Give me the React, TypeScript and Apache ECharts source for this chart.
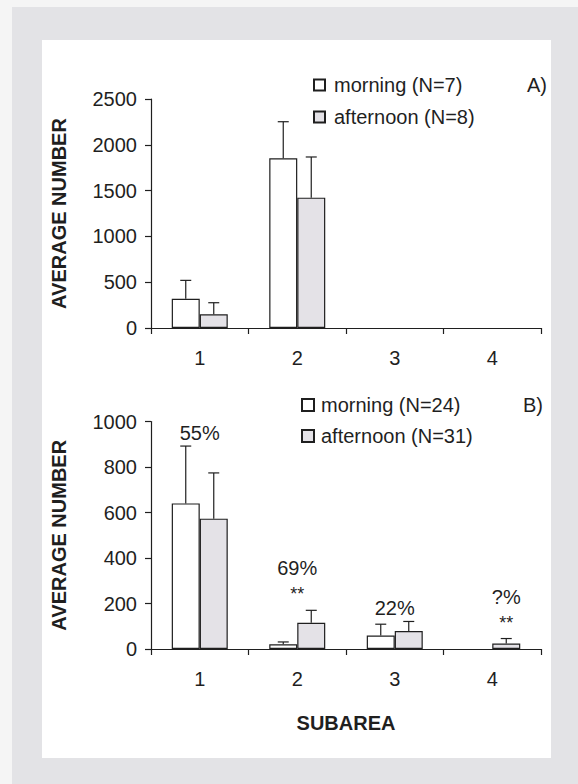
import React, { useEffect, useRef } from "react";
import * as echarts from "echarts";

// ---------- data ----------
const subareas = ["1", "2", "3", "4"];

// Panel A
const aNames = ["morning (N=7)", "afternoon (N=8)"];
const aMorning = [320, 1853, 0, 0];
const aMorningErr = [200, 399, 0, 0];
const aAfternoon = [150, 1423, 0, 0];
const aAfternoonErr = [126, 444, 0, 0];
const aYMax = 2500;
const aYStep = 500;

// Panel B
const bNames = ["morning (N=24)", "afternoon (N=31)"];
const bMorning = [640, 21, 59, 0];
const bMorningErr = [252, 10, 50, 0];
const bAfternoon = [573, 115, 79, 24];
const bAfternoonErr = [201, 55, 42, 22];
const bYMax = 1000;
const bYStep = 200;
const bPercent = ["55%", "69%", "22%", "?%"];
const bSignif = ["", "**", "", "**"];

const panelTags = ["A)", "B)"];
const yTitle = "AVERAGE NUMBER";
const xTitle = "SUBAREA";

// ---------- styles ----------
const FONT = '"Liberation Sans", Arial, Helvetica, sans-serif';
const INK = "#1f1f1f";
const AFT_FILL = "#e4e2e7";
const BAR_W = 28;
const CAP = 11;

const nz = (arr: number[]) => arr.map((v) => (v === 0 ? "-" : v));

function barSeries(idx: number, names: string[], m: number[], a: number[]) {
  return [
    {
      type: "bar",
      name: names[0],
      xAxisIndex: idx,
      yAxisIndex: idx,
      data: nz(m),
      barWidth: BAR_W,
      barGap: "0%",
      itemStyle: { color: "#ffffff", borderColor: INK, borderWidth: 1.2 },
      silent: true,
    },
    {
      type: "bar",
      name: names[1],
      xAxisIndex: idx,
      yAxisIndex: idx,
      data: nz(a),
      barWidth: BAR_W,
      barGap: "0%",
      itemStyle: { color: AFT_FILL, borderColor: INK, borderWidth: 1.2 },
      silent: true,
    },
  ];
}

function errorSeries(idx: number, m: number[], mErr: number[], a: number[], aErr: number[]) {
  const data: number[][] = [];
  m.forEach((v, i) => {
    if (mErr[i] > 0) data.push([i, v, v + mErr[i], -1]);
  });
  a.forEach((v, i) => {
    if (aErr[i] > 0) data.push([i, v, v + aErr[i], 1]);
  });
  return {
    type: "custom",
    xAxisIndex: idx,
    yAxisIndex: idx,
    data,
    z: 5,
    silent: true,
    clip: false,
    encode: { x: 0, y: [1, 2] },
    renderItem: (_p: any, api: any) => {
      const c = api.coord([api.value(0), api.value(1)]);
      const t = api.coord([api.value(0), api.value(2)]);
      const x = c[0] + (api.value(3) * BAR_W) / 2;
      return {
        type: "group",
        children: [
          { type: "line", shape: { x1: x, y1: c[1], x2: x, y2: t[1] }, style: { stroke: INK, lineWidth: 1.2 } },
          { type: "line", shape: { x1: x - CAP / 2, y1: t[1], x2: x + CAP / 2, y2: t[1] }, style: { stroke: INK, lineWidth: 1.2 } },
        ],
      };
    },
  };
}

function annotationSeries() {
  const data = subareas.map((_, i) => {
    const top = Math.max(bMorning[i] + bMorningErr[i], bAfternoon[i] + bAfternoonErr[i]);
    const side = bMorning[i] === 0 ? 1 : bAfternoon[i] === 0 ? -1 : 0;
    return [i, top, side];
  });
  return {
    type: "custom",
    xAxisIndex: 1,
    yAxisIndex: 1,
    data,
    z: 6,
    silent: true,
    clip: false,
    encode: { x: 0, y: 1 },
    renderItem: (params: any, api: any) => {
      const i = params.dataIndex;
      const p = api.coord([api.value(0), api.value(1)]);
      const x = p[0] + (api.value(2) * BAR_W) / 2;
      const hasStars = bSignif[i] !== "";
      const children: any[] = [];
      children.push({
        type: "text",
        x,
        y: p[1] - (hasStars ? 42 : 13),
        style: {
          text: bPercent[i],
          fill: INK,
          font: `20px ${FONT}`,
          textAlign: "center",
          textVerticalAlign: "middle",
        },
      });
      if (hasStars) {
        children.push({
          type: "text",
          x,
          y: p[1] - 16,
          style: {
            text: bSignif[i],
            fill: INK,
            font: `18px ${FONT}`,
            textAlign: "center",
            textVerticalAlign: "middle",
          },
        });
      }
      return { type: "group", children };
    },
  };
}

function xAxis(idx: number, withName: boolean) {
  return {
    type: "category",
    gridIndex: idx,
    data: subareas,
    boundaryGap: true,
    axisLine: { lineStyle: { color: INK, width: 1.2 } },
    axisTick: { show: true, length: 6, lineStyle: { color: INK, width: 1.2 } },
    axisLabel: { color: INK, fontSize: 20, fontFamily: FONT, margin: 20 },
    name: withName ? xTitle : "",
    nameLocation: "middle",
    nameGap: 64,
    nameTextStyle: { color: INK, fontSize: 20, fontWeight: "bold", fontFamily: FONT },
  };
}

function yAxis(idx: number, max: number, step: number) {
  return {
    type: "value",
    gridIndex: idx,
    min: 0,
    max,
    interval: step,
    splitLine: { show: false },
    axisLine: { show: true, lineStyle: { color: INK, width: 1.2 } },
    axisTick: { show: true, length: 6, lineStyle: { color: INK, width: 1.2 } },
    axisLabel: { color: INK, fontSize: 20, fontFamily: FONT, margin: 14, formatter: (v: number) => String(v) },
    name: yTitle,
    nameLocation: "middle",
    nameGap: 82,
    nameRotate: 90,
    nameTextStyle: { color: INK, fontSize: 20, fontWeight: "bold", fontFamily: FONT },
  };
}

export default function App() {
  const ref = useRef<HTMLDivElement>(null);

  useEffect(() => {
    if (!ref.current) return;
    const chart = echarts.init(ref.current, undefined, { renderer: "svg" });
    chart.setOption({
      animation: false,
      grid: [
        { left: 151, right: 37, top: 99, bottom: 456, containLabel: false },
        { left: 151, right: 37, top: 421.5, bottom: 135, containLabel: false },
      ],
      xAxis: [xAxis(0, false), xAxis(1, true)],
      yAxis: [yAxis(0, aYMax, aYStep), yAxis(1, bYMax, bYStep)],
      legend: [
        {
          data: aNames,
          orient: "vertical",
          left: 308,
          top: 70,
          itemWidth: 11,
          itemHeight: 11,
          itemGap: 12,
          icon: "rect",
          selectedMode: false,
          textStyle: { color: INK, fontSize: 20, fontFamily: FONT, lineHeight: 20, padding: [0, 0, 0, 4] },
        },
        {
          data: bNames,
          orient: "vertical",
          left: 296,
          top: 390,
          itemWidth: 12,
          itemHeight: 12,
          itemGap: 11,
          icon: "rect",
          selectedMode: false,
          textStyle: { color: INK, fontSize: 20, fontFamily: FONT, lineHeight: 20, padding: [0, 0, 0, 2] },
        },
      ],
      graphic: [
        {
          type: "text",
          x: 527,
          y: 85,
          style: { text: panelTags[0], fill: INK, font: `20px ${FONT}`, textVerticalAlign: "middle" },
        },
        {
          type: "text",
          x: 523,
          y: 405,
          style: { text: panelTags[1], fill: INK, font: `20px ${FONT}`, textVerticalAlign: "middle" },
        },
      ],
      series: [
        ...barSeries(0, aNames, aMorning, aAfternoon),
        ...barSeries(1, bNames, bMorning, bAfternoon),
        errorSeries(0, aMorning, aMorningErr, aAfternoon, aAfternoonErr),
        errorSeries(1, bMorning, bMorningErr, bAfternoon, bAfternoonErr),
        annotationSeries(),
      ],
    });
    return () => chart.dispose();
  }, []);

  return (
    <div style={{ position: "absolute", left: 0, top: 0, width: 578, height: 784, background: "#f5f5f5" }}>
      <div style={{ position: "absolute", left: 12, top: 7, width: 566, height: 777, background: "#e3e3e6" }} />
      <div style={{ position: "absolute", left: 42, top: 40, width: 509, height: 718, background: "#ffffff" }} />
      <div ref={ref} style={{ position: "absolute", left: 0, top: 0, width: 578, height: 784 }} />
    </div>
  );
}
